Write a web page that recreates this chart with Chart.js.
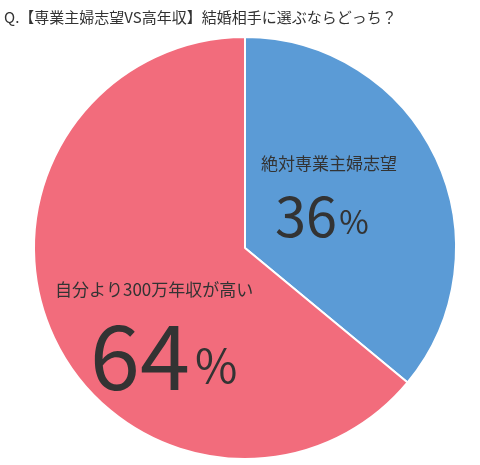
<!DOCTYPE html>
<html><head><meta charset="utf-8">
<script src="https://cdn.jsdelivr.net/npm/chart.js@4"></script>
<style>html,body{margin:0;padding:0;background:#fff}</style>
</head><body>
<canvas id="c" width="480" height="465" style="width:480px;height:465px"></canvas>
<script>
const categories = ["絶対専業主婦志望", "自分より300万年収が高い"];
const values = [36, 64];
const colors = ["#5b9bd6", "#f26c7c"];
const titleText = "Q.【専業主婦志望VS高年収】結婚相手に選ぶならどっち？";

const labelPlugin = {
  id: 'labels',
  afterDraw(chart) {
    const ctx = chart.ctx;
    const F = '"Noto Sans CJK JP", "Noto Sans", sans-serif';
    ctx.save();
    ctx.fillStyle = '#333';
    ctx.textBaseline = 'middle';
    ctx.textAlign = 'left';
    ctx.font = '15px ' + F;
    ctx.fillText(titleText, 4, 17);
    const meta = chart.getDatasetMeta(0);
    const cx = meta.data[0].x, cy = meta.data[0].y;
    // slice 1
    ctx.font = '17px ' + F;
    ctx.fillText(categories[0], cx + 16, cy - 84);
    ctx.font = '56px ' + F;
    ctx.fillText(String(values[0]), cx + 30, cy - 32);
    let w = ctx.measureText(String(values[0])).width;
    ctx.font = '32px ' + F;
    ctx.fillText('%', cx + 32 + w, cy - 26);
    // slice 2
    ctx.font = '17px ' + F;
    ctx.fillText(categories[1], cx - 190, cy + 42);
    ctx.font = '90px ' + F;
    ctx.fillText(String(values[1]), cx - 155, cy + 108);
    w = ctx.measureText(String(values[1])).width;
    ctx.font = '46px ' + F;
    ctx.fillText('%', cx - 150 + w, cy + 118);
    ctx.restore();
  }
};

new Chart(document.getElementById('c'), {
  type: 'pie',
  data: { labels: categories, datasets: [{ data: values, backgroundColor: colors, borderColor: '#fff', borderWidth: 2 }] },
  options: {
    responsive: false, animation: false,
    layout: { padding: { top: 36, bottom: 5, left: 10, right: 0 } },
    plugins: { legend: { display: false }, tooltip: { enabled: false }, title: { display: false } }
  },
  plugins: [labelPlugin]
});
</script>
</body></html>
